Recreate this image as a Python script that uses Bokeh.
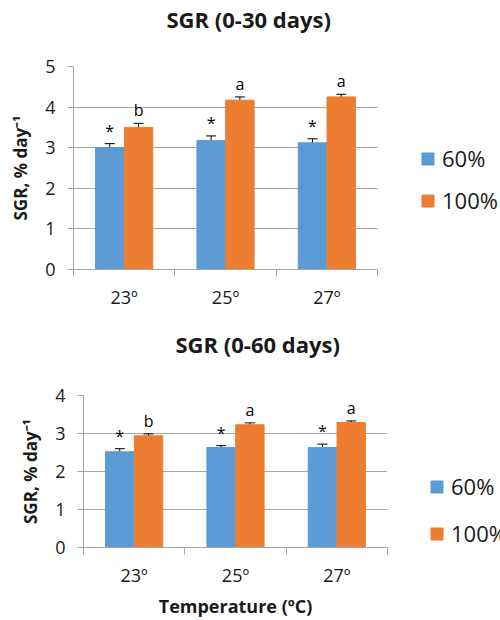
import numpy as np
from bokeh.plotting import figure
from bokeh.layouts import column, row
from bokeh.models import (ColumnDataSource, FixedTicker, Whisker, TeeHead, Legend,
                          LegendItem, Title, Range1d)
from bokeh.transform import dodge
from bokeh.core.properties import value
from bokeh.embed import file_html
from bokeh.resources import INLINE

# ---------------- data ----------------
temps = ["23º", "25º", "27º"]
series = ["60%", "100%"]

sgr30_60 = [3.00, 3.18, 3.12]
sgr30_60_err = [0.10, 0.11, 0.10]
sgr30_100 = [3.50, 4.17, 4.25]
sgr30_100_err = [0.10, 0.08, 0.065]
sig30_60 = ["*", "*", "*"]
sig30_100 = ["b", "a", "a"]

sgr60_60 = [2.52, 2.63, 2.63]
sgr60_60_err = [0.08, 0.05, 0.09]
sgr60_100 = [2.94, 3.23, 3.29]
sgr60_100_err = [0.05, 0.05, 0.04]
sig60_60 = ["*", "*", "*"]
sig60_100 = ["b", "a", "a"]

BLUE = "#5B9BD5"
ORANGE = "#ED7D31"
GRID = "#A6A6A6"
TXT = "#1a1a1a"
FONT = "Open Sans"

W_BAR = 0.28
OFF = 0.142


def blank(width, height, bl=0, bt=0, bb=0):
    q = figure(width=width, height=height, output_backend="svg", toolbar_location=None,
               x_range=Range1d(0, 1), y_range=Range1d(0, 1),
               min_border_left=bl, min_border_right=0, min_border_top=bt, min_border_bottom=bb)
    q.axis.visible = False
    q.grid.visible = False
    q.outline_line_color = None
    q.background_fill_color = "white"
    q.border_fill_color = "white"
    return q


def make_title(text, height, standoff, left):
    q = blank(500, height)
    q.add_layout(Title(text=text, align="left", offset=left, standoff=standoff,
                       text_font=FONT, text_font_style="bold", text_font_size="22px",
                       text_color=TXT), "above")
    return q


def make_panel(v60, e60, s60, v100, e100, s100, ymax, width, height,
               b_left, b_top, b_bottom, xlabel=None):
    idx = np.arange(len(temps)) + 0.5
    src = ColumnDataSource(dict(
        x=idx, cat=temps,
        v60=v60, v100=v100,
        lo60=np.array(v60) - np.array(e60), hi60=np.array(v60) + np.array(e60),
        lo100=np.array(v100) - np.array(e100), hi100=np.array(v100) + np.array(e100),
        s60=s60, s100=s100,
    ))
    p = figure(width=width, height=height, output_backend="svg", toolbar_location=None,
               x_range=Range1d(0, len(temps)), y_range=Range1d(0, ymax),
               min_border_left=b_left, min_border_right=3,
               min_border_top=b_top, min_border_bottom=b_bottom)
    p.outline_line_color = None
    p.background_fill_color = "white"
    p.border_fill_color = "white"

    p.vbar(x=dodge("x", -OFF), top="v60", width=W_BAR, source=src,
           fill_color=BLUE, line_color=BLUE)
    p.vbar(x=dodge("x", OFF), top="v100", width=W_BAR, source=src,
           fill_color=ORANGE, line_color=ORANGE)

    for key, off in (("60", -OFF), ("100", OFF)):
        w = Whisker(base=dodge("x", off), lower="lo" + key, upper="hi" + key,
                    source=src, line_color="black", line_width=1,
                    upper_head=TeeHead(size=10, line_color="black", line_width=1),
                    lower_head=TeeHead(size=10, line_color="black", line_width=1))
        p.add_layout(w)
        p.text(x=dodge("x", off), y="hi" + key, text="s" + key, source=src,
               text_align="center", text_baseline="bottom", y_offset=-2,
               text_font=value(FONT), text_font_size="16px", text_color="black")

    # axes
    p.xaxis.ticker = FixedTicker(ticks=list(idx), minor_ticks=list(np.arange(len(temps) + 1)))
    p.xaxis.major_label_overrides = {float(i): t for i, t in zip(idx, temps)}
    p.xaxis.major_tick_line_color = None
    p.xaxis.minor_tick_line_color = GRID
    p.xaxis.minor_tick_in = 0
    p.xaxis.minor_tick_out = 7
    p.xaxis.axis_line_color = GRID
    p.xaxis.major_label_standoff = 8
    p.xaxis.major_label_text_font = FONT
    p.xaxis.major_label_text_font_size = "18px"
    p.xaxis.major_label_text_color = TXT
    if xlabel:
        p.xaxis.axis_label = xlabel
        p.xaxis.axis_label_text_font = FONT
        p.xaxis.axis_label_text_font_style = "bold"
        p.xaxis.axis_label_text_font_size = "18px"
        p.xaxis.axis_label_text_color = TXT
        p.xaxis.axis_label_standoff = 4

    p.yaxis.ticker = FixedTicker(ticks=list(range(0, ymax + 1)))
    p.yaxis.minor_tick_line_color = None
    p.yaxis.major_tick_line_color = GRID
    p.yaxis.major_tick_in = 0
    p.yaxis.major_tick_out = 6
    p.yaxis.axis_line_color = GRID
    p.yaxis.major_label_standoff = 12
    p.yaxis.major_label_text_font = FONT
    p.yaxis.major_label_text_font_size = "18px"
    p.yaxis.major_label_text_color = TXT
    p.yaxis.axis_label = "SGR, % day\u207b\u00b9"
    p.yaxis.axis_label_text_font = FONT
    p.yaxis.axis_label_text_font_style = "bold"
    p.yaxis.axis_label_text_font_size = "17px"
    p.yaxis.axis_label_text_color = TXT
    p.yaxis.axis_label_standoff = 10

    p.xgrid.grid_line_color = None
    p.ygrid.grid_line_color = GRID
    p.ygrid.ticker = FixedTicker(ticks=list(range(0, ymax + 1)))
    return p


def make_legend(width, height, loc, spacing):
    q = blank(width, height)
    src = ColumnDataSource(dict(x=[-10.0], top=[0.0]))
    r60 = q.vbar(x="x", top="top", width=0.1, source=src, fill_color=BLUE, line_color=BLUE)
    r100 = q.vbar(x="x", top="top", width=0.1, source=src, fill_color=ORANGE, line_color=ORANGE)
    legend = Legend(items=[LegendItem(label=series[0], renderers=[r60]),
                           LegendItem(label=series[1], renderers=[r100])],
                    location=loc, border_line_color=None,
                    background_fill_alpha=0,
                    glyph_width=15, glyph_height=15, label_standoff=7,
                    label_text_font=FONT, label_text_font_size="22px",
                    label_text_color=TXT, spacing=spacing, padding=0,
                    margin=0, label_height=20)
    q.add_layout(legend, "center")
    return q


t1 = make_title("SGR (0-30 days)", 45, 2, 166)
p1 = make_panel(sgr30_60, sgr30_60_err, sig30_60,
                sgr30_100, sgr30_100_err, sig30_100, 5, 380, 270, 73, 21, 46)
l1 = make_legend(120, 270, (40, 54), 12)

t2 = make_title("SGR (0-60 days)", 60, 22, 175)
p2 = make_panel(sgr60_60, sgr60_60_err, sig60_60,
                sgr60_100, sgr60_100_err, sig60_100, 4, 390, 245, 83, 20, 72,
                xlabel="Temperature (ºC)")
l2 = make_legend(110, 245, (39, -1), 17)

layout = column(t1, row(p1, l1, spacing=0), t2, row(p2, l2, spacing=0), spacing=0)
open("out.html", "w").write(file_html(layout, INLINE))
